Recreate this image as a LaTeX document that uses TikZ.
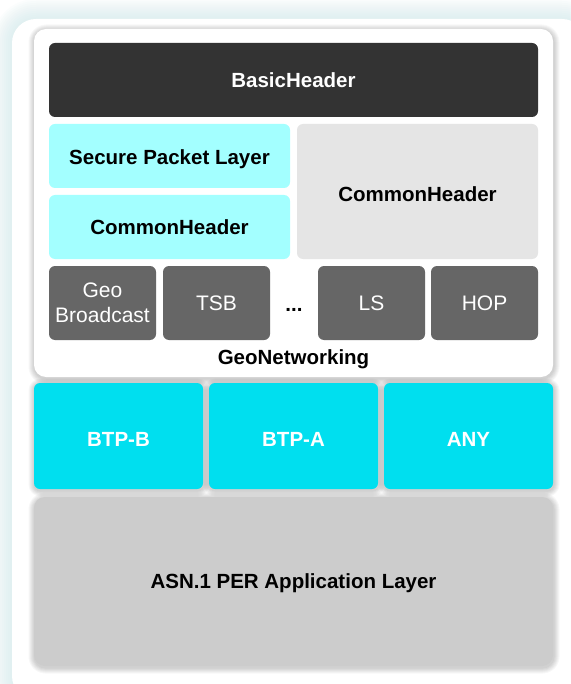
\documentclass[tikz,border=0pt]{standalone}
\usepackage{fontspec}
\setmainfont{Liberation Sans}

\definecolor{hdrdark}{HTML}{333333}
\definecolor{seccyan}{HTML}{A3FFFF}
\definecolor{hdrgrey}{HTML}{E5E5E5}
\definecolor{tilegrey}{HTML}{666666}
\definecolor{btpcyan}{HTML}{00DFEF}
\definecolor{appgrey}{HTML}{CCCCCC}
\definecolor{glowteal}{HTML}{C4E4E7}

\tikzset{
  labelfont/.style={font=\fontsize{20.5}{25}\selectfont\bfseries},
  blk/.style={rectangle, rounded corners=6pt, inner sep=0pt, outer sep=0pt,
    anchor=north west, draw=none, labelfont, text height=14.7pt, text depth=0pt},
  tile/.style={blk, fill=tilegrey, text=white,
    minimum width=107pt, minimum height=74pt,
    font=\fontsize{21}{25}\selectfont},
  btp/.style={blk, fill=btpcyan, text=white, minimum width=169pt,
    minimum height=106pt, text height=21pt},
}

% soft drop shadow under a rounded box: corners (#1,#2)-(#3,#4), radius #5
\newcommand\dropsoft[5]{%
  \foreach \s in {1,...,6}{%
    \fill[black, opacity=0.03, rounded corners={(#5+\s)*1pt}]
      ({#1-\s+0.5},{#2-\s+1.5}) rectangle ({#3+\s+0.5},{#4+\s+1.5});}}

\begin{document}
\begin{tikzpicture}[x=1pt,y=-1pt]
\useasboundingbox (0,0) rectangle (570,684);
\fill[white] (0,0) rectangle (570,684);

% soft teal glow around the outer card
\foreach \k in {1,...,10}
  \fill[glowteal, opacity=0.06, rounded corners={(24+2*\k)*1pt}]
    (12-2*\k,19-2*\k) rectangle (586+2*\k,700+2*\k);
\fill[white, rounded corners=24pt] (12,19) rectangle (586,700);

% shadows of the raised boxes
\dropsoft{34}{29}{553}{377}{12}
\dropsoft{34}{383}{203}{489}{6}
\dropsoft{209}{383}{378}{489}{6}
\dropsoft{384}{383}{553}{489}{6}
\dropsoft{34}{497}{553}{666}{11}

% GeoNetworking container
\node[blk, fill=white, rounded corners=12pt,
  minimum width=519pt, minimum height=348pt] (geo) at (34,29) {};

\node[blk, fill=hdrdark, text=white, minimum width=489pt, minimum height=74pt]
  (basic) at (49,43) {BasicHeader};

\node[blk, fill=seccyan, minimum width=241pt, minimum height=64pt, text height=16.7pt]
  (spl) at (49,124) {Secure Packet Layer};
\node[blk, fill=seccyan, minimum width=241pt, minimum height=64pt]
  (chl) at (49,195) {CommonHeader};
\node[blk, fill=hdrgrey, minimum width=241pt, minimum height=135pt, text height=19.7pt]
  (chr) at (297,124) {CommonHeader};

\node[tile, text height=, text depth=, align=center] (gbc) at (49,266)
  {Geo\\[-0.5pt]Broadcast};
\node[tile] (tsb) at (163,266) {TSB};
\node[labelfont, inner sep=0pt] (dots) at (294,310) {...};
\node[tile] (ls) at (318,266) {LS};
\node[tile] (hop) at (431,266) {HOP};

\node[labelfont, inner sep=0pt, text height=14.7pt, text depth=0pt]
  (geolbl) at (293.5,357) {GeoNetworking};

% transport layer
\node[btp] (btpb) at (34,383) {BTP-B};
\node[btp] (btpa) at (209,383) {BTP-A};
\node[btp] (any) at (384,383) {ANY};

% application layer
\node[blk, fill=appgrey, rounded corners=11pt,
  minimum width=519pt, minimum height=169pt]
  (asn) at (34,497) {ASN.1 PER Application Layer};
\end{tikzpicture}
\end{document}
